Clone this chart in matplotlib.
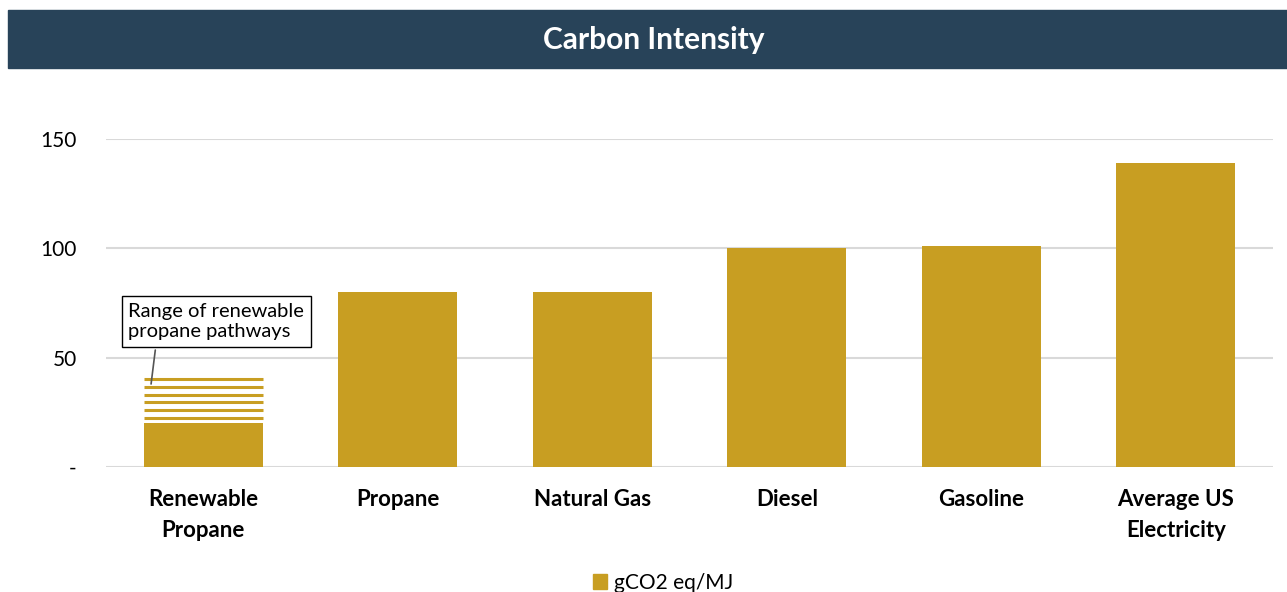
import numpy as np
import matplotlib.pyplot as plt
from matplotlib.patches import Rectangle, Patch

# Carbon intensity by fuel (gCO2 eq/MJ)
categories = ["Renewable\nPropane", "Propane", "Natural Gas", "Diesel", "Gasoline", "Average US\nElectricity"]
values = [20, 80, 80, 100, 101, 139]
# horizontal lines showing the range of renewable propane pathways
range_lines = [22.3, 25.9, 29.5, 33.1, 36.7, 40.3]

y_ticks = [0, 50, 100, 150]
y_tick_labels = ["-", "50", "100", "150"]

gold = "#C89E22"
navy = "#284359"

plt.rcParams['font.family'] = ['Lato', 'DejaVu Sans']

fig = plt.figure(figsize=(12.87, 5.92), dpi=100)

# header band with title
fig.patches.append(Rectangle((8 / 1287, 1 - 68 / 592), 1 - 8 / 1287, 58 / 592,
                             transform=fig.transFigure, color=navy, zorder=0))
fig.text(0.508, 1 - 40 / 592, "Carbon Intensity", color="white", fontsize=21.5,
         fontweight="bold", ha="center", va="center")

ax = fig.add_axes([106 / 1287, 1 - 467 / 592, 1167 / 1287, 328 / 592])

x = np.arange(len(categories))
width = 0.61
ax.bar(x, values, width=width, color=gold, zorder=3)

# range of renewable propane
ax.hlines(range_lines, x[0] - width / 2, x[0] + width / 2, color=gold, lw=2.2, zorder=3)

ax.annotate("Range of renewable\npropane pathways",
            xy=(-0.27, range_lines[4]), xytext=(-0.385, 66.5),
            fontsize=14.5, ha="left", va="center", linespacing=1.25,
            bbox=dict(boxstyle="square,pad=0.32", fc="white", ec="black", lw=1),
            arrowprops=dict(arrowstyle="-", color="#555555", lw=1.2, relpos=(0.16, 0)),
            zorder=5)

ax.set_xlim(-0.5, len(categories) - 0.5)
ax.set_ylim(0, 150)
ax.set_yticks(y_ticks)
ax.set_yticklabels(y_tick_labels, fontsize=15)
ax.set_xticks(x)
ax.set_xticklabels(categories, fontsize=16, fontweight="bold", linespacing=1.55)
ax.tick_params(axis="both", length=0)
ax.tick_params(axis="y", pad=21)
ax.tick_params(axis="x", pad=16)

ax.grid(axis="y", color="#d9d9d9", lw=1.5, zorder=0)
for s in ax.spines.values():
    s.set_visible(False)

fig.legend(handles=[Patch(color=gold, label="gCO2 eq/MJ")], loc="lower center",
           bbox_to_anchor=(0.515, -0.033), frameon=False, fontsize=15,
           handlelength=0.7, handleheight=0.7, handletextpad=0.3)

plt.savefig("out.png", dpi=100)
